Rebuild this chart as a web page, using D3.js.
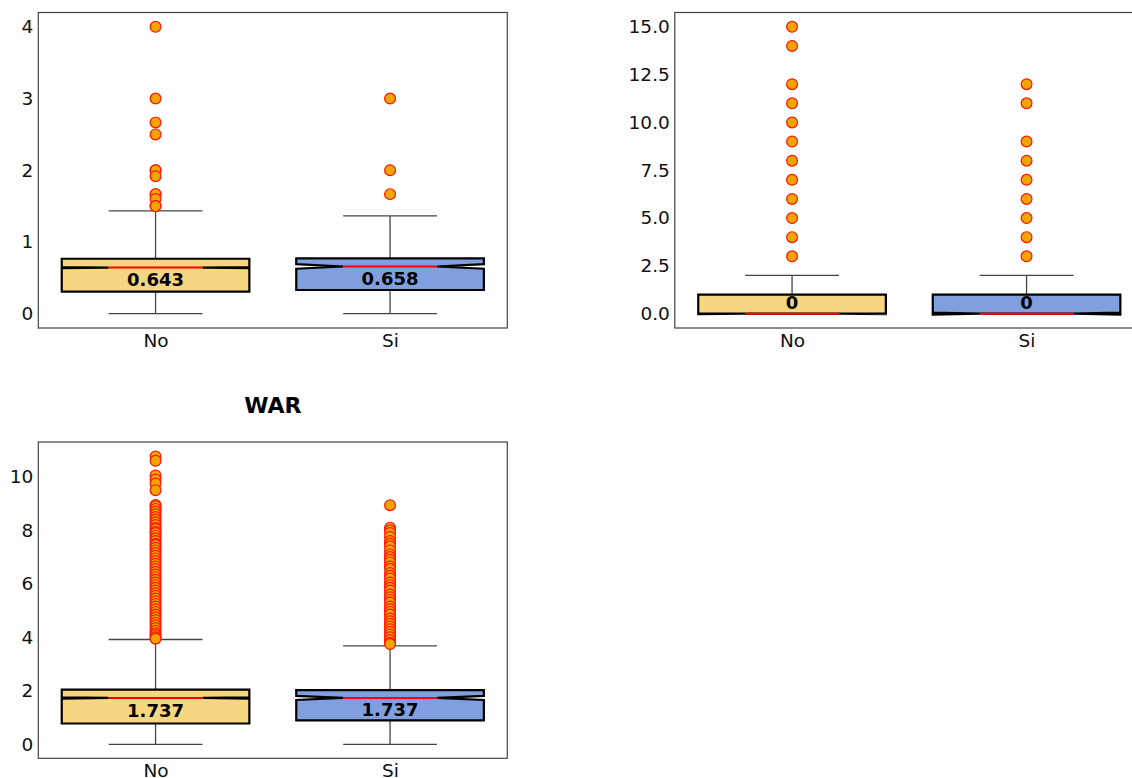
<!DOCTYPE html>
<html>
<head>
<meta charset="utf-8">
<script src="https://cdn.jsdelivr.net/npm/d3@7"></script>
<style>
  html, body { margin: 0; padding: 0; background: #fff; }
  svg { display: block; }
  text { font-family: "DejaVu Sans", sans-serif; }
</style>
</head>
<body>
<svg id="chart" width="1132" height="778"></svg>
<script>
// ---------------- DATA ----------------
const categories = ["No", "Si"];

// Panel A (top-left)
const aQ1 = [0.306, 0.33];
const aMedian = [0.643, 0.658];
const aQ3 = [0.766, 0.771];
const aWhiskerLo = [0, 0];
const aWhiskerHi = [1.434, 1.365];
const aNotchLo = [0.636, 0.626];
const aNotchHi = [0.650, 0.690];
const aOutliersNo = [4, 3, 2.667, 2.5, 2, 2, 1.917, 1.667, 1.667, 1.6, 1.5, 1.5];
const aOutliersSi = [3, 2, 1.667];
const aTicks = [0, 1, 2, 3, 4];
const aDomain = [-0.2, 4.2];

// Panel B (top-right)
const bQ1 = [0, 0];
const bMedian = [0, 0];
const bQ3 = [1, 1];
const bWhiskerLo = [0, 0];
const bWhiskerHi = [2, 2];
const bNotchLo = [-0.02, -0.05];
const bNotchHi = [0.02, 0.05];
const bOutliersNo = [3, 4, 5, 6, 7, 8, 9, 10, 11, 12, 14, 15];
const bOutliersSi = [3, 4, 5, 6, 7, 8, 9, 11, 12];
const bTicks = [0, 2.5, 5, 7.5, 10, 12.5, 15];
const bDomain = [-0.75, 15.75];

// Panel C (bottom-left, WAR)
const cTitle = "WAR";
const cQ1 = [0.78, 0.90];
const cMedian = [1.737, 1.737];
const cQ3 = [2.05, 2.03];
const cWhiskerLo = [0, 0];
const cWhiskerHi = [3.92, 3.685];
const cNotchLo = [1.71, 1.66];
const cNotchHi = [1.76, 1.81];
const cOutliersNo = [10.76, 10.6, 10.05, 9.9, 9.75, 9.5, 8.95, 8.9, 8.8, 8.7, 8.6, 8.5, 8.4, 8.3, 8.2,
  8.1, 8.05, 7.95, 7.9, 7.8, 7.7, 7.6, 7.5, 7.45, 7.35, 7.25, 7.15, 7.05, 6.95, 6.85, 6.75,
  6.65, 6.55, 6.45, 6.35, 6.25, 6.15, 6.05, 5.95, 5.85, 5.75, 5.65, 5.55, 5.45, 5.35, 5.25,
  5.15, 5.05, 4.95, 4.85, 4.75, 4.65, 4.55, 4.45, 4.35, 4.25, 4.15, 4.08, 4.0, 3.95];
const cOutliersSi = [8.94, 8.1, 8.0, 7.9, 7.75, 7.6, 7.5, 7.4, 7.25, 7.1, 7.0, 6.9, 6.8, 6.65,
  6.55, 6.4, 6.3, 6.2, 6.05, 5.95, 5.85, 5.75, 5.6, 5.5, 5.4, 5.3, 5.15, 5.05, 4.95, 4.85,
  4.7, 4.6, 4.5, 4.4, 4.3, 4.2, 4.1, 4.0, 3.9, 3.8, 3.75];
const cTicks = [0, 2, 4, 6, 8, 10];
const cDomain = [-0.52, 11.3];

const labelsA = ["0.643", "0.658"];
const labelsB = ["0", "0"];
const labelsC = ["1.737", "1.737"];

// ---------------- STYLE ----------------
const fills = ["#f6d680", "#809fdf"];
const svg = d3.select("#chart");

function drawPanel(cfg) {
  const { left, top, width, height } = cfg;
  const g = svg.append("g");
  const x = d3.scaleLinear().domain([0.5, 2.5]).range([left, left + width]);
  const y = d3.scaleLinear().domain(cfg.domain).range([top + height, top]);
  const unit = x(1) - x(0);

  // frame
  g.append("rect").attr("x", left).attr("y", top).attr("width", width).attr("height", height)
    .attr("fill", "none").attr("stroke", "#444").attr("stroke-width", 1.2);

  // y ticks
  const yAxis = d3.axisLeft(y).tickValues(cfg.ticks).tickSize(0).tickPadding(5)
    .tickFormat(cfg.tickFormat);
  const ya = g.append("g").attr("transform", `translate(${left},0)`).call(yAxis);
  ya.select(".domain").remove();
  ya.selectAll("text").attr("font-size", 18.5).attr("fill", "#111")
    .attr("font-family", "DejaVu Sans, sans-serif");

  // x ticks
  const xAxis = d3.axisBottom(x).tickValues([1, 2]).tickSize(0).tickPadding(6)
    .tickFormat((d) => categories[d - 1]);
  const xa = g.append("g").attr("transform", `translate(0,${top + height})`).call(xAxis);
  xa.select(".domain").remove();
  xa.selectAll("text").attr("font-size", 18.5).attr("fill", "#111")
    .attr("font-family", "DejaVu Sans, sans-serif");

  categories.forEach((c, i) => {
    const pos = i + 1;
    const xc = x(pos);
    const hw = 0.4 * unit;   // box half width
    const nw = 0.2 * unit;   // notch half width / caps half width

    // whiskers
    g.append("line").attr("x1", xc).attr("x2", xc).attr("y1", y(cfg.q1[i])).attr("y2", y(cfg.wlo[i]))
      .attr("stroke", "#444").attr("stroke-width", 1.3);
    g.append("line").attr("x1", xc).attr("x2", xc).attr("y1", y(cfg.q3[i])).attr("y2", y(cfg.whi[i]))
      .attr("stroke", "#444").attr("stroke-width", 1.3);
    [cfg.wlo[i], cfg.whi[i]].forEach((v) => {
      g.append("line").attr("x1", xc - nw).attr("x2", xc + nw).attr("y1", y(v)).attr("y2", y(v))
        .attr("stroke", "#444").attr("stroke-width", 1.3);
    });

    // notched box
    const pts = [
      [xc - hw, y(cfg.q1[i])], [xc + hw, y(cfg.q1[i])], [xc + hw, y(cfg.nlo[i])],
      [xc + nw, y(cfg.med[i])], [xc + hw, y(cfg.nhi[i])], [xc + hw, y(cfg.q3[i])],
      [xc - hw, y(cfg.q3[i])], [xc - hw, y(cfg.nhi[i])], [xc - nw, y(cfg.med[i])],
      [xc - hw, y(cfg.nlo[i])]
    ];
    g.append("path").attr("d", d3.line()(pts) + "Z")
      .attr("fill", fills[i]).attr("stroke", "#000").attr("stroke-width", 2.2)
      .attr("stroke-linejoin", "miter");

    // median
    g.append("line").attr("x1", xc - nw).attr("x2", xc + nw)
      .attr("y1", y(cfg.med[i])).attr("y2", y(cfg.med[i]))
      .attr("stroke", "#ff0000").attr("stroke-width", 2);

    // outliers
    g.selectAll(null).data(cfg.outliers[i]).enter().append("circle")
      .attr("cx", xc).attr("cy", (d) => y(d)).attr("r", 5.4)
      .attr("fill", "#f0a500").attr("stroke", "#ff1200").attr("stroke-width", 1.2);

    // label
    const gapBelow = y(cfg.q1[i]) - y(cfg.med[i]);
    const ly = gapBelow > 10 ? (y(cfg.med[i]) + y(cfg.q1[i])) / 2
                             : (y(cfg.med[i]) + y(cfg.q3[i])) / 2 - 2;
    g.append("text").attr("x", xc).attr("y", ly).attr("dy", "0.36em")
      .attr("text-anchor", "middle").attr("font-size", 18).attr("font-weight", "bold")
      .attr("fill", "#000").text(cfg.labels[i]);
  });

  if (cfg.title) {
    svg.append("text").attr("x", left + width / 2).attr("y", top - 29)
      .attr("text-anchor", "middle").attr("font-size", 22).attr("font-weight", "bold")
      .attr("fill", "#000").text(cfg.title);
  }
}

const fmtInt = d3.format("d");
const fmt1 = d3.format(".1f");

drawPanel({ left: 38.3, top: 12.5, width: 469, height: 315.5, domain: aDomain, ticks: aTicks,
  tickFormat: fmtInt, q1: aQ1, med: aMedian, q3: aQ3, wlo: aWhiskerLo, whi: aWhiskerHi,
  nlo: aNotchLo, nhi: aNotchHi, outliers: [aOutliersNo, aOutliersSi], labels: labelsA });

drawPanel({ left: 674.8, top: 12.5, width: 469, height: 315.5, domain: bDomain, ticks: bTicks,
  tickFormat: fmt1, q1: bQ1, med: bMedian, q3: bQ3, wlo: bWhiskerLo, whi: bWhiskerHi,
  nlo: bNotchLo, nhi: bNotchHi, outliers: [bOutliersNo, bOutliersSi], labels: labelsB });

drawPanel({ left: 38.3, top: 442, width: 469, height: 316.3, domain: cDomain, ticks: cTicks,
  tickFormat: fmtInt, q1: cQ1, med: cMedian, q3: cQ3, wlo: cWhiskerLo, whi: cWhiskerHi,
  nlo: cNotchLo, nhi: cNotchHi, outliers: [cOutliersNo, cOutliersSi], labels: labelsC,
  title: cTitle });
</script>
</body>
</html>
